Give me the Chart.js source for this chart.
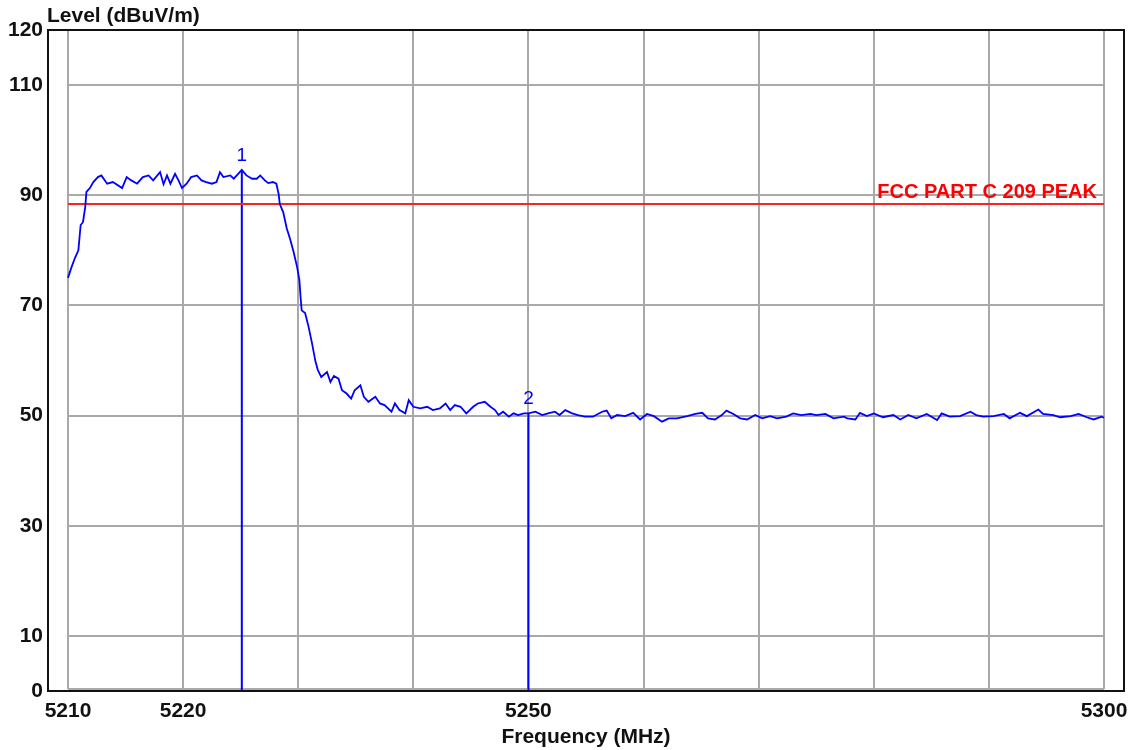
<!DOCTYPE html>
<html>
<head>
<meta charset="utf-8">
<script src="https://cdn.jsdelivr.net/npm/chart.js@4/dist/chart.umd.min.js"></script>
<style>
    body { margin: 0; background: #fff; }
    #scan { display: block; }
</style>
</head>
<body>
<canvas id="scan" width="1142" height="750"></canvas>
<script>
// spectrum scan (MHz / dBuV/m)
var freqMHz = [
    5210.0, 5210.3, 5210.6, 5210.9, 5211.1, 5211.3, 5211.5, 5211.6, 5211.9, 5212.2,
    5212.6, 5212.9, 5213.4, 5213.9, 5214.7, 5215.1, 5215.5, 5216.0, 5216.5, 5217.0,
    5217.4, 5218.0, 5218.3, 5218.6, 5218.9, 5219.3, 5219.6, 5219.9, 5220.3, 5220.7,
    5221.2, 5221.6, 5222.0, 5222.5, 5222.9, 5223.2, 5223.5, 5224.1, 5224.4, 5225.1,
    5225.5, 5226.0, 5226.4, 5226.7, 5227.1, 5227.4, 5227.8, 5228.1, 5228.3, 5228.4,
    5228.7, 5229.0, 5229.3, 5229.6, 5229.9, 5230.1, 5230.2, 5230.3, 5230.6, 5230.9,
    5231.2, 5231.5, 5231.7, 5232.0, 5232.5, 5232.8, 5233.1, 5233.5, 5233.8, 5234.2,
    5234.6, 5234.9, 5235.4, 5235.7, 5236.1, 5236.7, 5237.1, 5237.5, 5238.1, 5238.4,
    5238.8, 5239.3, 5239.6, 5240.0, 5240.6, 5241.2, 5241.7, 5242.3, 5242.8, 5243.2,
    5243.6, 5244.1, 5244.6, 5245.2, 5245.6, 5246.2, 5246.7, 5247.1, 5247.4, 5247.8,
    5248.3, 5248.7, 5249.1, 5249.6, 5250.0, 5250.6, 5251.2, 5251.7, 5252.3, 5252.7,
    5253.2, 5253.8, 5254.3, 5254.9, 5255.6, 5256.4, 5256.8, 5257.2, 5257.7, 5258.4,
    5259.1, 5259.7, 5260.3, 5260.9, 5261.6, 5262.2, 5262.9, 5263.8, 5264.5, 5265.1,
    5265.6, 5266.2, 5266.8, 5267.2, 5267.8, 5268.4, 5269.0, 5269.7, 5270.3, 5271.0,
    5271.6, 5272.4, 5273.0, 5273.7, 5274.5, 5275.0, 5275.8, 5276.5, 5277.4, 5277.7,
    5278.4, 5278.8, 5279.4, 5280.0, 5280.8, 5281.7, 5282.3, 5283.0, 5283.7, 5284.6,
    5285.5, 5285.9, 5286.6, 5287.5, 5288.4, 5288.9, 5289.5, 5290.4, 5291.3, 5291.8,
    5292.7, 5293.3, 5294.3, 5294.7, 5295.6, 5296.2, 5297.1, 5297.8, 5298.5, 5299.1,
    5299.8, 5300.0
];
var levelDbuv = [
    75.0, 76.9, 78.6, 80.0, 84.6, 85.1, 87.9, 90.6, 91.3, 92.4,
    93.3, 93.6, 92.1, 92.4, 91.3, 93.3, 92.7, 92.1, 93.3, 93.6,
    92.7, 94.2, 92.0, 93.6, 92.1, 93.9, 92.7, 91.3, 92.1, 93.3,
    93.6, 92.7, 92.4, 92.1, 92.4, 94.2, 93.3, 93.6, 93.0, 94.6,
    93.6, 93.0, 93.0, 93.6, 92.7, 92.2, 92.4, 92.1, 90.2, 88.4,
    86.9, 84.0, 82.0, 79.7, 77.0, 74.6, 71.6, 69.1, 68.6, 66.1,
    63.1, 59.8, 58.3, 57.0, 57.9, 56.1, 57.2, 56.7, 54.6, 54.0,
    53.1, 54.6, 55.5, 53.4, 52.5, 53.4, 52.2, 51.9, 50.7, 52.2,
    51.0, 50.4, 52.8, 51.6, 51.3, 51.6, 51.0, 51.3, 52.2, 51.0,
    51.9, 51.6, 50.4, 51.6, 52.2, 52.5, 51.6, 51.0, 50.1, 50.7,
    49.8, 50.4, 50.1, 50.4, 50.4, 50.7, 50.1, 50.4, 50.7, 50.1,
    51.0, 50.4, 50.1, 49.8, 49.8, 50.7, 50.9, 49.5, 50.1, 49.9,
    50.5, 49.3, 50.3, 49.9, 48.9, 49.5, 49.5, 49.9, 50.3, 50.5,
    49.5, 49.3, 50.1, 50.9, 50.3, 49.5, 49.3, 50.1, 49.5, 49.9,
    49.5, 49.8, 50.4, 50.1, 50.3, 50.1, 50.3, 49.5, 49.8, 49.5,
    49.3, 50.5, 49.9, 50.4, 49.7, 50.1, 49.3, 50.1, 49.5, 50.3,
    49.2, 50.4, 49.8, 49.9, 50.7, 50.1, 49.8, 49.9, 50.3, 49.5,
    50.5, 49.9, 51.1, 50.3, 50.1, 49.7, 49.9, 50.3, 49.7, 49.3,
    49.8, 49.6
];

// limit line
var limitName = "FCC PART C 209 PEAK";
var limitLevel = 88.4;

// markers
var markerNames = ["1", "2"];
var markerFreqs = [5225.1, 5250.0];
var markerLevels = [94.6, 50.4];

// axes
var xGridValues = [5210, 5220, 5230, 5240, 5250, 5260, 5270, 5280, 5290, 5300];
var xTickLabels = [5210, 5220, 5250, 5300];
var yTickLabels = [0, 10, 30, 50, 70, 90, 110, 120];
var xStart = 5210;
var xEnd = 5300;
var yTitle = "Level (dBuV/m)";
var xTitle = "Frequency (MHz)";

var fontFamily = "'Liberation Sans', Arial, sans-serif";

function scanPoints(xs, ys)
{
    var pts = [];
    for (let i = 0; i < xs.length; i++) {
        pts.push({ x: xs[i], y: ys[i] });
    }
    return pts;
}

function markerDatasets()
{
    var sets = [];
    for (let i = 0; i < markerFreqs.length; i++) {
        sets.push({
            data: [{ x: markerFreqs[i], y: 0 }, { x: markerFreqs[i], y: markerLevels[i] }],
            borderColor: "#0000ff",
            borderWidth: 2,
            pointRadius: 0,
            showLine: true,
        });
    }
    return sets;
}

// gray grid inside the black frame, plus the texts
var scanFrame = {
    id: "scanFrame",
    beforeDatasetsDraw(chart) {
        const c = chart.ctx;
        const xs = chart.scales.x;
        const ys = chart.scales.y;
        const left = xs.getPixelForValue(xStart);
        const right = xs.getPixelForValue(xEnd);
        const top = ys.getPixelForValue(120);
        const bottom = ys.getPixelForValue(0) - 2;
        c.save();
        c.strokeStyle = "#a9a9a9";
        c.lineWidth = 2;
        c.beginPath();
        for (let i = 0; i < xGridValues.length; i++) {
            const px = Math.round(xs.getPixelForValue(xGridValues[i]));
            c.moveTo(px, top);
            c.lineTo(px, bottom);
        }
        for (let i = 0; i < yTickLabels.length; i++) {
            const py = Math.min(Math.round(ys.getPixelForValue(yTickLabels[i])), bottom);
            c.moveTo(left, py);
            c.lineTo(right, py);
        }
        c.stroke();
        c.restore();
    },
    afterDatasetsDraw(chart) {
        const c = chart.ctx;
        const xs = chart.scales.x;
        const ys = chart.scales.y;
        const a = chart.chartArea;
        c.save();
        // black frame
        c.strokeStyle = "#111";
        c.lineWidth = 2;
        c.strokeRect(a.left, a.top, a.right - a.left, a.bottom - a.top);

        // limit label
        c.fillStyle = "#ff0000";
        c.font = "bold 20px " + fontFamily;
        c.textAlign = "right";
        c.textBaseline = "alphabetic";
        c.fillText(limitName, xs.getPixelForValue(xEnd) - 7, ys.getPixelForValue(limitLevel) - 6);

        // marker numbers
        c.fillStyle = "#0000ff";
        c.font = "19px " + fontFamily;
        c.textAlign = "center";
        c.textBaseline = "bottom";
        for (let i = 0; i < markerNames.length; i++) {
            c.fillText(markerNames[i], xs.getPixelForValue(markerFreqs[i]), ys.getPixelForValue(markerLevels[i]) - 5);
        }

        // axis titles
        c.fillStyle = "#111";
        c.font = "bold 21px " + fontFamily;
        c.textAlign = "left";
        c.textBaseline = "alphabetic";
        c.fillText(yTitle, a.left - 1, 22);
        c.textAlign = "center";
        c.fillText(xTitle, (a.left + a.right) / 2, 743);
        c.restore();
    }
};

function drawScanChart(dest)
{
    // 20 px of blank space between the frame and the first/last grid line
    const pad = 20 * (xEnd - xStart) / 1036;
    const ctx = document.getElementById(dest).getContext("2d");
    var chartId = new Chart(ctx, {
        type: 'scatter',
        data: {
            datasets: [{
                data: scanPoints(freqMHz, levelDbuv),
                borderColor: "#0000ff",
                borderWidth: 1.8,
                pointRadius: 0,
                showLine: true,
            }, {
                data: [{ x: xStart, y: limitLevel }, { x: xEnd, y: limitLevel }],
                borderColor: "#ff2020",
                borderWidth: 2,
                pointRadius: 0,
                showLine: true,
            }].concat(markerDatasets()),
        },
        options: {
            responsive: false,
            animation: false,
            layout: {
                padding: { top: 30, right: 18, left: 0, bottom: 0 }
            },
            scales: {
                x: {
                    type: 'linear',
                    min: xStart - pad,
                    max: xEnd + pad,
                    grid: { display: false, drawTicks: false },
                    border: { display: false },
                    afterBuildTicks: (scale) => {
                        scale.ticks = xTickLabels.map(v => ({ value: v }));
                    },
                    afterFit: (scale) => { scale.height = 59; },
                    ticks: {
                        autoSkip: false,
                        maxRotation: 0,
                        padding: 8,
                        color: "#111",
                        font: { family: fontFamily, size: 21, weight: 'bold' },
                        callback: (val) => String(val),
                    },
                },
                y: {
                    min: 0,
                    max: 120,
                    grid: { display: false, drawTicks: false },
                    border: { display: false },
                    afterBuildTicks: (scale) => {
                        scale.ticks = yTickLabels.map(v => ({ value: v }));
                    },
                    afterFit: (scale) => { scale.width = 48; },
                    ticks: {
                        autoSkip: false,
                        padding: 5,
                        color: "#111",
                        font: { family: fontFamily, size: 21, weight: 'bold' },
                        callback: (val) => String(val),
                    },
                },
            },
            plugins: {
                legend: { display: false },
                tooltip: { enabled: false },
            }
        },
        plugins: [scanFrame],
    });
    return chartId;
}

drawScanChart("scan");
</script>
</body>
</html>
